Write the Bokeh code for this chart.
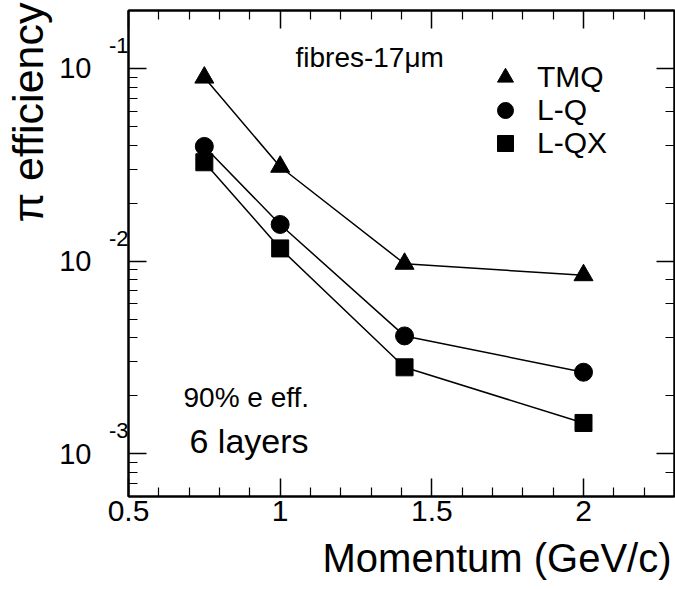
import numpy as np
from bokeh.plotting import figure
from bokeh.models import (Range1d, LinearAxis, LogAxis, FixedTicker,
                          Label, Legend, LegendItem, Title)
from bokeh.embed import file_html
from bokeh.resources import INLINE

# ---------------- data ----------------
momentum = [0.75, 1.0, 1.41, 2.0]
tmq = [0.0897, 0.0309, 0.00969, 0.00845]
lq = [0.0394, 0.0155, 0.00409, 0.00265]
lqx = [0.0326, 0.01164, 0.00281, 0.001445]
series_names = ["TMQ", "L-Q", "L-QX"]
series_markers = ["triangle", "circle", "square"]
x_ticks = [0.5, 1.0, 1.5, 2.0]
x_tick_labels = ["0.5", "1", "1.5", "2"]
x_minor_ticks = [0.6, 0.7, 0.8, 0.9, 1.1, 1.2, 1.3, 1.4, 1.6, 1.7, 1.8, 1.9, 2.1, 2.2]
y_decades = [-1, -2, -3]

# ---------------- layout ----------------
X0, X1 = 0.5, 2.3
Y0, Y1 = 6e-4, 0.2
W, H = 675, 589
ML, MR, MT, MB = 128, 1, 10, 93
FW = W - ML - MR
FH = H - MT - MB
FONT = "Liberation Sans"
DEC_PX = FH / (np.log10(Y1) - np.log10(Y0))


def xd(px):
    """canvas pixel x -> data x (for text placement)"""
    return X0 + (px - ML) / FW * (X1 - X0)


def yd(py):
    """canvas pixel y -> data y (for text placement)"""
    return 10 ** (np.log10(Y1) - (py - MT) / DEC_PX)


p = figure(width=W, height=H, x_range=Range1d(X0, X1), y_range=Range1d(Y0, Y1),
           y_axis_type="log", output_backend="svg", toolbar_location=None,
           min_border_left=ML, min_border_right=MR, min_border_top=MT,
           min_border_bottom=MB)
p.xgrid.grid_line_color = None
p.ygrid.grid_line_color = None
p.outline_line_color = "black"
p.outline_line_width = 2
p.outline_line_alpha = 1
p.background_fill_color = "white"
p.border_fill_color = "white"


def style_axis(ax, show_labels):
    ax.axis_line_color = "black"
    ax.axis_line_width = 2
    ax.major_tick_in = 18
    ax.major_tick_out = 0
    ax.minor_tick_in = 9
    ax.minor_tick_out = 0
    ax.major_tick_line_color = "black"
    ax.minor_tick_line_color = "black"
    ax.major_tick_line_width = 1.5
    ax.minor_tick_line_width = 1.2
    if not show_labels:
        ax.major_label_text_font_size = "1px"
        ax.major_label_text_color = None
        ax.major_label_standoff = 0


def label_only_axis(ax):
    ax.axis_line_color = None
    ax.major_tick_line_color = None
    ax.minor_tick_line_color = None
    ax.major_tick_in = 0
    ax.major_tick_out = 0
    ax.minor_tick_in = 0
    ax.minor_tick_out = 0
    ax.major_label_text_font = FONT
    ax.major_label_text_color = "black"


# bottom axis with tick labels
xaxis = p.xaxis[0]
xaxis.ticker = FixedTicker(ticks=x_ticks, minor_ticks=x_minor_ticks)
xaxis.major_label_overrides = {t: s for t, s in zip(x_ticks, x_tick_labels)}
style_axis(xaxis, True)
xaxis.major_label_text_font = FONT
xaxis.major_label_text_font_size = "30px"
xaxis.major_label_text_color = "black"
xaxis.major_label_standoff = 4

# left axis: ticks only
yaxis = p.yaxis[0]
style_axis(yaxis, False)

# left: exponent labels ("-1", "-2", "-3"), raised above each decade
sup_shift = 10 ** (23 / DEC_PX)
sup_ticks = [10.0 ** d * sup_shift for d in y_decades]
sup_axis = LogAxis(ticker=FixedTicker(ticks=sup_ticks, minor_ticks=[]))
label_only_axis(sup_axis)
sup_axis.major_label_overrides = {t: str(d) for t, d in zip(sup_ticks, y_decades)}
sup_axis.major_label_text_font_size = "22px"
sup_axis.major_label_standoff = 0
p.add_layout(sup_axis, "left")

# left: mantissa labels ("10")
dec_ticks = [10.0 ** d for d in y_decades]
ten_axis = LogAxis(ticker=FixedTicker(ticks=dec_ticks, minor_ticks=[]))
label_only_axis(ten_axis)
ten_axis.major_label_overrides = {t: "10" for t in dec_ticks}
ten_axis.major_label_text_font_size = "29px"
ten_axis.major_label_standoff = 14
p.add_layout(ten_axis, "left")

# mirrored axes
top = LinearAxis(ticker=FixedTicker(ticks=x_ticks, minor_ticks=x_minor_ticks))
style_axis(top, False)
p.add_layout(top, "above")
right = LogAxis()
style_axis(right, False)
p.add_layout(right, "right")

# axis titles (ROOT style: aligned to the right / top end)
p.add_layout(Title(text="π efficiency", align="right", offset=-8, standoff=6,
                   vertical_align="top",
                   text_font=FONT, text_font_size="43px", text_font_style="normal",
                   text_color="black"), "left")
p.add_layout(Title(text="Momentum (GeV/c)", align="right", offset=3, standoff=20,
                   text_font=FONT, text_font_size="40px", text_font_style="normal",
                   text_color="black"), "below")

# ---------------- series ----------------
sizes = {"triangle": 19, "circle": 18, "square": 17}
renderers = []
for ys, mk in zip([tmq, lq, lqx], series_markers):
    p.line(momentum, ys, line_color="black", line_width=1.5)
    r = p.scatter(momentum, ys, marker=mk, size=sizes[mk],
                  fill_color="black", line_color="black")
    renderers.append(r)

# one single-item legend per series so that the rows sit as close as in the original
legend_centers = [77, 110, 143]
for n, r, yc in zip(series_names, renderers, legend_centers):
    lg = Legend(items=[LegendItem(label=n, renderers=[r])],
                location=(357, (H - MB) - yc - 20), glyph_width=40, glyph_height=40,
                spacing=0, padding=0, margin=0, label_standoff=12,
                label_text_font=FONT, label_text_font_size="30px",
                label_text_color="black", border_line_color=None,
                background_fill_alpha=0)
    p.add_layout(lg, "center")

# ---------------- texts inside the frame ----------------
p.add_layout(Label(x=xd(295), y=yd(57), text="fibres-17μm",
                   text_align="left", text_baseline="alphabetic",
                   text_font=FONT, text_font_size="28px", text_color="black"))
p.add_layout(Label(x=xd(183), y=yd(397), text="90% e eff.",
                   text_align="left", text_baseline="alphabetic",
                   text_font=FONT, text_font_size="28px", text_color="black"))
p.add_layout(Label(x=xd(189), y=yd(440), text="6 layers",
                   text_align="left", text_baseline="alphabetic",
                   text_font=FONT, text_font_size="34px", text_color="black"))

open("out.html", "w").write(file_html(p, INLINE))
